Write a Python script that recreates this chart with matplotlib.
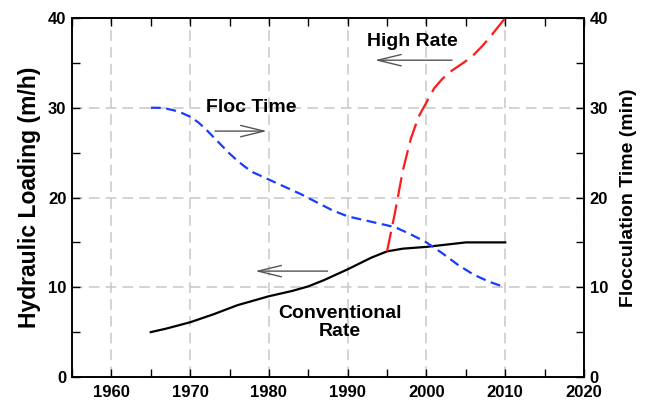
import matplotlib.pyplot as plt
from matplotlib.ticker import MultipleLocator

plt.rcParams['font.family'] = ['Liberation Sans', 'DejaVu Sans']
plt.rcParams['font.weight'] = 'bold'

# Conventional rate (left axis)
conv_years = [1965, 1967, 1970, 1973, 1976, 1980, 1983, 1985, 1987, 1990,
              1993, 1995, 1997, 2000, 2003, 2005, 2010]
conv_load = [5, 5.4, 6.1, 7.0, 8.0, 9.0, 9.6, 10.1, 10.8, 12.0,
             13.3, 14.0, 14.3, 14.5, 14.8, 15.0, 15.0]

# High rate (left axis)
high_years = [1995, 1996, 1997, 1998, 1999, 2000, 2001, 2002, 2003, 2004,
              2005, 2006, 2007, 2008, 2009, 2010]
high_load = [14, 18.3, 23.0, 26.5, 29.0, 30.6, 32.2, 33.2, 34.0, 34.6,
             35.2, 35.9, 36.8, 37.8, 38.9, 40]

# Flocculation time (right axis)
floc_years = [1965, 1966, 1967, 1968, 1969, 1970, 1971, 1972, 1973, 1974,
              1975, 1976, 1977, 1978, 1979, 1980, 1982, 1984, 1986, 1988,
              1990, 1992, 1994, 1996, 1998, 2000, 2002, 2004, 2006, 2008, 2010]
floc_time = [30, 30, 29.9, 29.7, 29.4, 29, 28.4, 27.6, 26.7, 25.8,
             24.9, 24.1, 23.4, 22.8, 22.4, 22, 21.2, 20.4, 19.5, 18.6,
             17.9, 17.5, 17.1, 16.7, 15.9, 15.0, 13.8, 12.5, 11.4, 10.6, 10]

fig = plt.figure(figsize=(6.45, 4.04), dpi=100)
ax = fig.add_axes([0.1116, 0.0668, 0.7938, 0.8886])
ax2 = ax.twinx()

ax.plot(conv_years, conv_load, color='black', lw=1.6, zorder=3)
ax.plot(high_years, high_load, color='#ff1a1a', lw=1.6, dashes=(9, 3.5), zorder=3)
ax2.plot(floc_years, floc_time, color='#1a3cff', lw=1.6, dashes=(4.5, 2.5), zorder=3)

for a in (ax, ax2):
    a.set_ylim(0, 40)
    a.yaxis.set_major_locator(MultipleLocator(10))
    a.yaxis.set_minor_locator(MultipleLocator(5))
    a.tick_params(which='both', direction='in', labelsize=12)
    a.tick_params(which='major', length=6, width=1)
    a.tick_params(which='minor', length=6, width=1)
    for sp in a.spines.values():
        sp.set_linewidth(1.2)

ax.set_xlim(1955, 2020)
ax.xaxis.set_major_locator(MultipleLocator(10))
ax.xaxis.set_minor_locator(MultipleLocator(5))
ax.tick_params(axis='x', which='both', top=True, pad=6)
ax.tick_params(axis='y', pad=4)
ax2.tick_params(axis='y', pad=4)

ax.grid(True, which='major', color='#c8c8c8', linestyle=(0, (7, 4)), lw=1.1)
ax.set_axisbelow(True)

ax.set_ylabel('Hydraulic Loading (m/h)', fontsize=16.5, fontweight='bold', labelpad=5)
ax2.set_ylabel('Flocculation Time (min)', fontsize=14, fontweight='bold', labelpad=9)

arrow = dict(arrowstyle='->,head_length=0.7,head_width=0.17', color='#555555',
             lw=1, mutation_scale=24)
ax.annotate('', xy=(1993.1, 35.3), xytext=(2003.6, 35.3), arrowprops=arrow)
ax.annotate('', xy=(1980.1, 27.4), xytext=(1972.8, 27.4), arrowprops=arrow)
ax.annotate('', xy=(1977.9, 11.8), xytext=(1987.8, 11.8), arrowprops=arrow)

ax.text(1998.2, 37.4, 'High Rate', fontsize=14, fontweight='bold', ha='center', va='center')
ax.text(1977.7, 30.0, 'Floc Time', fontsize=14, fontweight='bold', ha='center', va='center')
ax.text(1989, 6.1, 'Conventional\nRate', fontsize=14, fontweight='bold',
        ha='center', va='center', linespacing=1.05)

fig.savefig('out.png', dpi=100)
